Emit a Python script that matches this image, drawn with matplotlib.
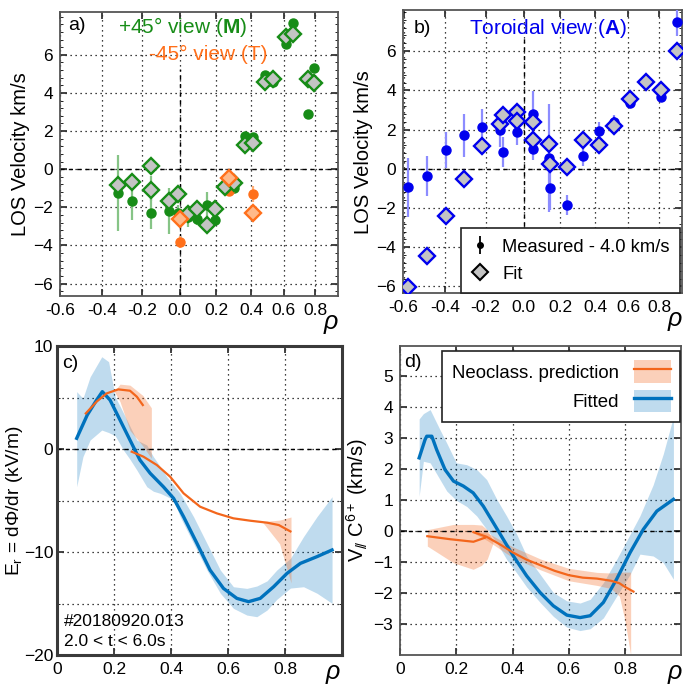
"""
LOS velocity fits (a, b) and radial electric field / parallel flow (c, d).
Saves out.png
"""
import numpy as np
import matplotlib
matplotlib.use("Agg")
import matplotlib.pyplot as plt
from matplotlib.ticker import MultipleLocator, FixedLocator
from matplotlib.patches import Patch
from matplotlib.lines import Line2D

plt.rcParams['font.family'] = ['Liberation Sans', 'DejaVu Sans']
plt.rcParams['mathtext.fontset'] = 'custom'
plt.rcParams['mathtext.rm'] = 'Liberation Sans'
plt.rcParams['mathtext.it'] = 'Liberation Sans:italic'
plt.rcParams['mathtext.bf'] = 'Liberation Sans:bold'

# ---------------- data: panel a (+45 / -45 views) ----------------
a_g_rho  = [-0.32, -0.25, -0.153, -0.153, -0.058, -0.008, 0.042, 0.09, 0.145, 0.194,
            0.25, 0.30, 0.363, 0.41, 0.483, 0.53, 0.612, 0.656, 0.752, 0.795]
a_g_meas = [-1.23, -1.66, -1.0, -2.31, -2.2, -2.27, -2.5, -2.61, -1.85, -2.68,
            -0.86, -1.0, 1.76, 1.69, 4.92, 4.57, 6.56, 7.67, 2.9, 5.29]
a_g_err  = [2.0, 1.0, 0.65, 0.8, 1.2, 0.4, 0.55, 0.3, 0.65, 0.3,
            0.3, 0.25, 0.2, 0.2, 0.2, 0.2, 0.2, 0.2, 0.2, 0.2]
a_g_fit  = [-0.83, -0.65, 0.17, -1.09, -1.67, -1.32, -2.36, -2.06, -2.9, -2.06,
            -0.95, -0.74, 1.28, 1.37, 4.57, 4.71, 6.96, 7.09, 4.76, 4.54]

a_o_rho  = [0.0, 0.273, 0.41]
a_o_meas = [-3.82, -1.13, -1.3]
a_o_err  = [0.3, 0.3, 0.4]
a_o_fit  = [-2.59, -0.47, -2.32]

# ---------------- data: panel b (toroidal view) ----------------
b_meas_rho = [-0.581, -0.488, -0.398, -0.309, -0.217, -0.126, -0.112, -0.039, 0.047, 0.05,
              0.137, 0.141, 0.235, 0.33, 0.42, 0.514, 0.61, 0.81, 0.915]
b_meas     = [-0.94, -0.39, 0.97, 1.70, 2.11, 1.99, 0.85, 1.87, 2.79, 1.01,
              0.56, -0.99, -1.85, 0.66, 1.91, 2.4, 3.36, 3.66, 7.47]
b_err      = [1.5, 1.02, 0.92, 1.12, 0.95, 0.87, 0.75, 0.64, 1.2, 0.55,
              2.75, 1.1, 0.5, 0.53, 0.5, 0.35, 0.15, 0.15, 0.7]
b_fit_rho  = [-0.581, -0.491, -0.398, -0.309, -0.217, -0.126, -0.112, -0.039, -0.034, 0.047,
              0.047, 0.137, 0.141, 0.235, 0.33, 0.42, 0.514, 0.61, 0.71, 0.81, 0.915]
b_fit      = [-6.05, -4.44, -2.4, -0.51, 1.17, 2.30, 2.76, 2.90, 2.42, 2.37,
              1.48, 1.28, 0.26, 0.07, 1.45, 1.23, 2.2, 3.58, 4.41, 4.0, 5.99]

# ---------------- data: panel c (Er) ----------------
c_rho = [0.068, 0.105, 0.138, 0.158, 0.185, 0.22, 0.255, 0.29, 0.326, 0.372, 0.408, 0.443,
         0.49, 0.536, 0.583, 0.63, 0.671, 0.712, 0.759, 0.806, 0.853, 0.911, 0.964]
c_fit = [1.04, 3.3, 4.76, 5.57, 4.76, 2.82, 0.87, -1.07, -2.36, -3.66, -4.79, -6.57,
         -9.16, -11.75, -13.53, -14.5, -14.82, -14.5, -13.37, -12.07, -11.1, -10.45, -9.8]
c_band_rho = [0.068, 0.09, 0.115, 0.156, 0.18, 0.203, 0.232, 0.255, 0.279, 0.314, 0.337,
              0.361, 0.384, 0.408, 0.431, 0.478, 0.525, 0.572, 0.618, 0.665, 0.70, 0.736,
              0.77, 0.818, 0.864, 0.911, 0.964]
c_band_hi = [5.57, 4.92, 7.0, 8.96, 8.48, 5.08, 3.5, 2.2, 0.87, 0.39, -0.74, -1.7, -2.69,
             -3.5, -4.3, -6.57, -9.16, -11.75, -13.37, -13.53, -13.3, -12.8, -11.75, -10.61,
             -8.5, -6.57, -4.63]
c_band_lo = [-3.66, -0.74, 0.87, 1.84, 1.6, 1.3, -0.1, -1.0, -2.04, -3.66, -4.1, -4.3, -4.6,
             -4.95, -6.57, -9.16, -11.75, -14.0, -15.47, -16.12, -16.28, -15.63, -14.6,
             -13.5, -13.37, -14.0, -14.98]
c_neo1_rho = [0.1, 0.138, 0.173, 0.214, 0.255, 0.279, 0.30]
c_neo1     = [3.46, 4.6, 5.4, 5.79, 5.66, 5.08, 4.27]
c_neo2_rho = [0.261, 0.302, 0.349, 0.396, 0.443, 0.501, 0.56, 0.618, 0.677, 0.736, 0.777, 0.818]
c_neo2     = [-0.26, -0.74, -1.55, -2.69, -4.3, -5.6, -6.25, -6.73, -6.96, -7.15, -7.38, -8.0]
c_nb1_rho = [0.20, 0.22, 0.255, 0.30, 0.33]
c_nb1_hi  = [5.6, 6.3, 6.2, 5.2, 4.0]
c_nb1_lo  = [5.6, 4.6, 1.8, 0.3, -0.9]
c_nb2_rho = [0.72, 0.78, 0.82]
c_nb2_hi  = [-7.05, -6.9, -6.6]
c_nb2_lo  = [-7.1, -9.2, -13.0]

# ---------------- data: panel d (V parallel) ----------------
d_rho = [0.068, 0.089, 0.095, 0.113, 0.13, 0.16, 0.19, 0.225, 0.26, 0.296, 0.332, 0.367,
         0.403, 0.45, 0.498, 0.545, 0.593, 0.64, 0.676, 0.723, 0.77, 0.818, 0.865, 0.913, 0.972]
d_fit = [2.37, 2.96, 3.07, 3.07, 2.64, 1.99, 1.62, 1.46, 1.24, 0.81, 0.27, -0.26,
         -0.8, -1.44, -1.98, -2.41, -2.71, -2.79, -2.73, -2.3, -1.55, -0.69, 0.06, 0.65, 1.03]
d_band_rho = [0.068, 0.083, 0.107, 0.142, 0.166, 0.2, 0.237, 0.273, 0.308, 0.344, 0.379,
              0.415, 0.45, 0.498, 0.545, 0.593, 0.64, 0.676, 0.723, 0.77, 0.818, 0.853,
              0.9, 0.936, 0.972]
d_band_hi = [3.63, 3.8, 3.93, 3.28, 2.85, 2.21, 2.15, 1.99, 1.67, 1.03, 0.49, -0.1, -0.8,
             -1.39, -1.98, -2.25, -2.32, -2.2, -1.66, -0.91, -0.1, 0.5, 1.5, 2.5, 3.7]
d_band_lo = [1.13, 2.26, 2.21, 1.67, 1.3, 1.0, 0.8, 0.49, 0.06, -0.37, -0.91, -1.35, -1.8,
             -2.3, -2.75, -3.1, -3.21, -3.15, -2.8, -2.1, -1.39, -0.74, -0.8, -1.02, -1.55]
d_neo1_rho = [0.097, 0.18, 0.261, 0.302]
d_neo1     = [-0.16, -0.26, -0.34, -0.21]
d_neo2_rho = [0.261, 0.308, 0.36, 0.40, 0.45, 0.50, 0.55, 0.60, 0.65, 0.70, 0.75, 0.78, 0.80, 0.83]
d_neo2     = [-0.03, -0.18, -0.45, -0.68, -0.92, -1.1, -1.28, -1.42, -1.5, -1.53, -1.6,
              -1.68, -1.8, -1.95]
d_nb1_rho = [0.097, 0.19, 0.26, 0.29, 0.31, 0.33]
d_nb1_hi  = [0.05, 0.22, 0.22, 0.2, 0.05, -0.3]
d_nb1_lo  = [-0.48, -1.02, -1.23, -1.1, -0.9, -0.4]
d_nb2_rho = [0.26, 0.31, 0.4, 0.5, 0.6, 0.7, 0.75, 0.78, 0.80, 0.82]
d_nb2_hi  = [0.0, -0.05, -0.5, -0.9, -1.2, -1.33, -1.35, -1.32, -1.32, -1.32]
d_nb2_lo  = [-0.05, -0.3, -0.85, -1.25, -1.6, -1.75, -1.85, -2.1, -2.9, -4.0]

rho_ticks = [-0.6, -0.4, -0.2, 0.0, 0.2, 0.4, 0.6, 0.8]
los_ticks = [-6, -4, -2, 0, 2, 4, 6]

GREEN = "#178c17"
GREEN_L = "#86c486"
ORANGE = "#ff6f1a"
ORANGE_F = "#ffb98a"
BLUE = "#0000ee"
BLUE_L = "#8c8cff"
GRAY = "#c4c4c4"
LBLUE = "#0072bd"
LORANGE = "#f3661c"
ZERO_LS = (0, (3, 3))

# x axis of a/b: rho labels on a chord coordinate (outboard side compressed)
CQ = -0.1186


def fwd(r):
    r = np.asarray(r, float)
    return r + CQ * r ** 2


def inv(f):
    f = np.asarray(f, float)
    return (-1 + np.sqrt(np.maximum(1 + 4 * CQ * f, 0))) / (2 * CQ)


def style_axes(ax, spine_c="#555555", spine_w=1.3):
    for s in ax.spines.values():
        s.set_color(spine_c)
        s.set_linewidth(spine_w)
    ax.tick_params(direction="in", top=True, right=True, labelsize=12.5,
                   length=5, width=1.3, color="#333333", pad=5)
    ax.tick_params(which="minor", direction="in", right=True, length=2.5)
    ax.set_axisbelow(True)
    ax.grid(True, ls=(0, (1, 3)), color="k", lw=0.9)


def rho_label(ax, x, y):
    ax.text(x, y, r"$\rho$", transform=ax.transAxes, ha="center", va="center",
            fontsize=18, family="DejaVu Serif", style="italic")


fig = plt.figure(figsize=(6.83, 6.89), dpi=100)
ax_a = fig.add_axes([0.0878, 0.5704, 0.407, 0.4122])
ax_b = fig.add_axes([0.5896, 0.5743, 0.4085, 0.4112])
ax_c = fig.add_axes([0.0839, 0.0493, 0.4173, 0.4485])
ax_d = fig.add_axes([0.5857, 0.0493, 0.4118, 0.4492])

# ---- a ----
ax = ax_a
ax.set_xscale("function", functions=(fwd, inv))
ax.set_xlim(-0.6, 0.955)
ax.set_ylim(-6.65, 8.25)
ax.xaxis.set_major_locator(FixedLocator(rho_ticks))
ax.set_xticklabels([f"{t:.1f}" for t in rho_ticks])
ax.yaxis.set_major_locator(FixedLocator(los_ticks))
ax.yaxis.set_minor_locator(MultipleLocator(0.4))
style_axes(ax)
ax.axhline(0, ls=ZERO_LS, color="k", lw=1)
ax.axvline(0, ymax=0.8, ls=ZERO_LS, color="k", lw=1)
ax.errorbar(a_g_rho, a_g_meas, yerr=a_g_err, fmt="o", ms=6.5, color=GREEN,
            ecolor=GREEN_L, elinewidth=1.6, capsize=0, zorder=3)
ax.plot(a_g_rho, a_g_fit, "D", ms=8.3, mfc=GRAY, mec=GREEN, mew=1.7, ls="none", zorder=4)
ax.errorbar(a_o_rho, a_o_meas, yerr=a_o_err, fmt="o", ms=6.5, color=ORANGE,
            ecolor="#ffb07a", elinewidth=1.6, capsize=0, zorder=3)
ax.plot(a_o_rho, a_o_fit, "D", ms=8.3, mfc=ORANGE_F, mec=ORANGE, mew=1.7, ls="none", zorder=4)
ax.set_ylabel("LOS Velocity km/s", fontsize=14.5, labelpad=2)
ax.text(0.03, 0.952, "a)", transform=ax.transAxes, fontsize=14, va="center")
ax.text(0.44, 0.948, r"+45° view ($\mathbf{M}$)", transform=ax.transAxes, fontsize=15,
        color=GREEN, ha="center", va="center")
ax.text(0.535, 0.849, "-45° view (T)", transform=ax.transAxes, fontsize=15,
        color=ORANGE, ha="center", va="center")
rho_label(ax, 0.975, -0.1)

# ---- b ----
ax = ax_b
ax.set_xscale("function", functions=(fwd, inv))
ax.set_xlim(-0.604, 0.95)
ax.set_ylim(-6.35, 8.1)
ax.xaxis.set_major_locator(FixedLocator(rho_ticks))
ax.set_xticklabels([f"{t:.1f}" for t in rho_ticks])
ax.yaxis.set_major_locator(FixedLocator(los_ticks))
ax.yaxis.set_minor_locator(MultipleLocator(0.4))
style_axes(ax)
ax.axhline(0, ls=ZERO_LS, color="k", lw=1)
ax.axvline(0, ls=ZERO_LS, color="k", lw=1, ymax=0.9)
ax.errorbar(b_meas_rho, b_meas, yerr=b_err, fmt="o", ms=6.5, color=BLUE,
            ecolor=BLUE_L, elinewidth=1.6, capsize=0, zorder=3)
ax.plot(b_fit_rho, b_fit, "D", ms=8.3, mfc=GRAY, mec=BLUE, mew=1.7, ls="none", zorder=4)
h_meas = ax.errorbar([np.nan], [np.nan], yerr=[1], fmt="o", ms=4, color="k",
                     elinewidth=1.3, capsize=0)
h_fit = Line2D([], [], marker="D", ms=8.3, mfc=GRAY, mec="k", mew=1.5, ls="none")
leg = ax.legend([h_meas, h_fit], ["Measured - 4.0 km/s", "Fit"], loc="lower right",
                bbox_to_anchor=(0.994, 0.002), borderaxespad=0, fontsize=13.2,
                fancybox=False, edgecolor="#222222", framealpha=1, handlelength=1.0,
                handletextpad=0.7, borderpad=0.55, labelspacing=0.55)
leg.get_frame().set_linewidth(1.2)
ax.set_ylabel("LOS Velocity km/s", fontsize=14.5, labelpad=2)
ax.text(0.04, 0.936, "b)", transform=ax.transAxes, fontsize=14, va="center")
ax.text(0.52, 0.933, r"Toroidal view ($\mathbf{A}$)", transform=ax.transAxes, fontsize=15,
        color=BLUE, ha="center", va="center")
rho_label(ax, 0.976, -0.1)

# ---- c ----
ax = ax_c
ax.set_xlim(0, 1.0)
ax.set_ylim(-20, 10)
ax.xaxis.set_major_locator(FixedLocator([0, 0.2, 0.4, 0.6, 0.8]))
ax.set_xticklabels(["0", "0.2", "0.4", "0.6", "0.8"])
ax.yaxis.set_major_locator(MultipleLocator(10))
ax.yaxis.set_minor_locator(MultipleLocator(5))
style_axes(ax, spine_c="#3a3a3a", spine_w=2.2)
ax.tick_params(axis="y", pad=3)
ax.grid(True, which="minor", axis="y", ls=(0, (1, 3)), color="k", lw=0.9)
ax.axhline(0, ls=ZERO_LS, color="k", lw=1)
ax.fill_between(c_band_rho, c_band_lo, c_band_hi, color=LBLUE, alpha=0.25, lw=0)
ax.fill_between(c_nb1_rho, c_nb1_lo, c_nb1_hi, color=LORANGE, alpha=0.3, lw=0)
ax.fill_between(c_nb2_rho, c_nb2_lo, c_nb2_hi, color=LORANGE, alpha=0.3, lw=0)
ax.plot(c_rho, c_fit, color=LBLUE, lw=2.4)
ax.plot(c_neo1_rho, c_neo1, color=LORANGE, lw=1.6)
ax.plot(c_neo2_rho, c_neo2, color=LORANGE, lw=1.6)
ax.set_ylabel(r"E$_\mathrm{r}$ = d$\Phi$/dr (kV/m)", fontsize=13.8)
ax.yaxis.set_label_coords(-0.112, 0.5)
ax.text(0.017, 0.945, "c)", transform=ax.transAxes, fontsize=14, va="center")
ax.text(0.024, 0.107, "#20180920.013", transform=ax.transAxes, fontsize=12.5, va="center")
ax.text(0.024, 0.045, "2.0 < t < 6.0s", transform=ax.transAxes, fontsize=12.5, va="center")
rho_label(ax, 0.967, -0.062)

# ---- d ----
ax = ax_d
ax.set_xlim(0, 1.0)
ax.set_ylim(-4, 6)
ax.xaxis.set_major_locator(FixedLocator([0, 0.2, 0.4, 0.6, 0.8]))
ax.set_xticklabels(["0", "0.2", "0.4", "0.6", "0.8"])
ax.yaxis.set_major_locator(FixedLocator([-3, -2, -1, 0, 1, 2, 3, 4, 5]))
style_axes(ax)
ax.axhline(0, ls=ZERO_LS, color="k", lw=1)
ax.fill_between(d_band_rho, d_band_lo, d_band_hi, color=LBLUE, alpha=0.25, lw=0)
ax.fill_between(d_nb1_rho, d_nb1_lo, d_nb1_hi, color=LORANGE, alpha=0.3, lw=0)
ax.fill_between(d_nb2_rho, d_nb2_lo, d_nb2_hi, color=LORANGE, alpha=0.3, lw=0)
ax.plot(d_rho, d_fit, color=LBLUE, lw=2.4)
ax.plot(d_neo1_rho, d_neo1, color=LORANGE, lw=1.6)
ax.plot(d_neo2_rho, d_neo2, color=LORANGE, lw=1.6)
h_neo = (Patch(facecolor=LORANGE, alpha=0.3, lw=0), Line2D([], [], color=LORANGE, lw=1.6))
h_fitd = (Patch(facecolor=LBLUE, alpha=0.25, lw=0), Line2D([], [], color=LBLUE, lw=2.4))
leg = ax.legend([h_neo, h_fitd], ["Neoclass. prediction", "Fitted"], loc="upper right",
                bbox_to_anchor=(0.996, 0.982), borderaxespad=0, fontsize=13.4,
                markerfirst=False, fancybox=False, edgecolor="#222222", framealpha=1,
                handlelength=2.0, handleheight=1.5, handletextpad=0.8, labelspacing=0.35,
                borderpad=0.5)
leg.get_frame().set_linewidth(1.2)
ax.set_ylabel(r"V$_{/\!/}$ C$^{6+}$ (km/s)", fontsize=14.5, labelpad=2)
ax.text(0.015, 0.945, "d)", transform=ax.transAxes, fontsize=14, va="center")
rho_label(ax, 0.978, -0.062)

fig.savefig("out.png", dpi=100)
